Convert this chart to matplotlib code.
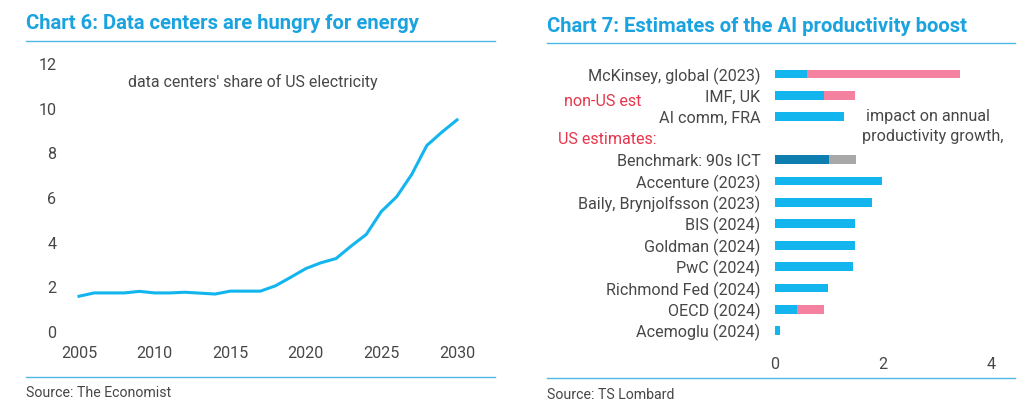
import matplotlib
matplotlib.use("Agg")
import matplotlib.pyplot as plt
from matplotlib.lines import Line2D

plt.rcParams['font.family'] = ['Roboto', 'DejaVu Sans']

# ---- chart 6 data: data centers' share of US electricity (%)
years = list(range(2005, 2031))
share = [1.6, 1.75, 1.75, 1.75, 1.82, 1.75, 1.75, 1.78, 1.74, 1.7, 1.83,
         1.83, 1.83, 2.07, 2.45, 2.84, 3.1, 3.29, 3.85, 4.37, 5.4, 6.05,
         7.05, 8.35, 8.95, 9.5]
x_ticks6 = [2005, 2010, 2015, 2020, 2025, 2030]
y_ticks6 = [0, 2, 4, 6, 8, 10, 12]

# ---- chart 7 data: impact on annual productivity growth (pp)
labels7 = ["McKinsey, global (2023)", "IMF, UK", "AI comm, FRA", "",
           "Benchmark: 90s ICT", "Accenture (2023)", "Baily, Brynjolfsson (2023)",
           "BIS (2024)", "Goldman (2024)", "PwC (2024)", "Richmond Fed (2024)",
           "OECD (2024)", "Acemoglu (2024)"]
low7 = [0.6, 0.9, 1.28, 0, 1.0, 1.98, 1.8, 1.48, 1.48, 1.44, 0.99, 0.4, 0.09]
high7 = [3.42, 1.48, 1.28, 0, 1.5, 1.98, 1.8, 1.48, 1.48, 1.44, 0.99, 0.9, 0.09]
x_ticks7 = [0, 2, 4]

W, H = 1024, 420
TITLE = "#1BA3E0"
RULE = "#4DB8E8"
TXT = "#474747"
BLUE = "#13B5EE"
PINK = "#F4819F"
DARK = "#0E7DB0"
GREY = "#A8A8A8"
RED = "#E8354B"

fig = plt.figure(figsize=(W / 100, H / 100), dpi=100)


def px_axes(l, t, r, b):
    return fig.add_axes([l / W, 1 - b / H, (r - l) / W, (b - t) / H])


def rule(x0, x1, y):
    fig.add_artist(Line2D([x0 / W, x1 / W], [1 - y / H, 1 - y / H],
                          color=RULE, lw=1.0))


def ftext(x, y, s, **kw):
    fig.text(x / W, 1 - y / H, s, **kw)


# titles, rules, sources
ftext(26, 29, "Chart 6: Data centers are hungry for energy", color=TITLE,
      fontsize=14.6, fontweight='bold', va='baseline')
ftext(547, 31.5, "Chart 7: Estimates of the AI productivity boost", color=TITLE,
      fontsize=14.6, fontweight='bold', va='baseline')
rule(26, 495, 41)
rule(547, 1015, 43)
rule(26, 495, 376.5)
rule(547, 1015, 378)
ftext(26, 393, "Source: The Economist", color=TXT, fontsize=10.2, va='center')
ftext(547, 395, "Source: TS Lombard", color=TXT, fontsize=10.2, va='center')

# ---- left chart
ax = px_axes(62, 60, 480, 340)
ax.plot(years, share, color=BLUE, lw=2.2, solid_joinstyle='round')
ax.set_xlim(2005 + (62 - 79) / 15.12, 2005 + (480 - 79) / 15.12)
ax.set_ylim(-(340 - 332) / 22.33, (332 - 60) / 22.33)
ax.set_xticks(x_ticks6)
ax.set_yticks(y_ticks6)
ax.tick_params(length=0, labelsize=11.6, labelcolor=TXT)
ax.tick_params(axis='y', pad=4)
ax.tick_params(axis='x', pad=4)
for s in ax.spines.values():
    s.set_visible(False)
ftext(128, 81.5, "data centers' share of US electricity", color=TXT,
      fontsize=11.4, va='center')

# ---- right chart
bx = px_axes(770, 62, 1010, 350)
pos = list(range(len(labels7)))
ext = [h - l for h, l in zip(high7, low7)]
c_low = [DARK if lab.startswith("Benchmark") else BLUE for lab in labels7]
c_ext = [GREY if lab.startswith("Benchmark") else PINK for lab in labels7]
bx.barh(pos, low7, height=0.42, color=c_low, left=0)
bx.barh(pos, ext, height=0.42, left=low7, color=c_ext)
bx.set_yticks(pos)
bx.set_yticklabels(labels7)
bx.set_ylim((350 - 74) / 21.4, (62 - 74) / 21.4)
bx.set_xlim(-5 / 54, (1010 - 775) / 54)
bx.set_xticks(x_ticks7)
bx.tick_params(length=0, labelsize=11.6, labelcolor=TXT)
bx.tick_params(axis='y', pad=7)
bx.tick_params(axis='x', pad=5)
for s in bx.spines.values():
    s.set_visible(False)

ftext(564, 101, "non-US est", color=RED, fontsize=11.6, va='center')
ftext(558, 139, "US estimates:", color=RED, fontsize=11.6, va='center')
ftext(866, 117, "impact on annual", color=TXT, fontsize=11.6, va='center')
ftext(862, 137, "productivity growth,", color=TXT, fontsize=11.6, va='center')

fig.savefig("out.png", dpi=100)
